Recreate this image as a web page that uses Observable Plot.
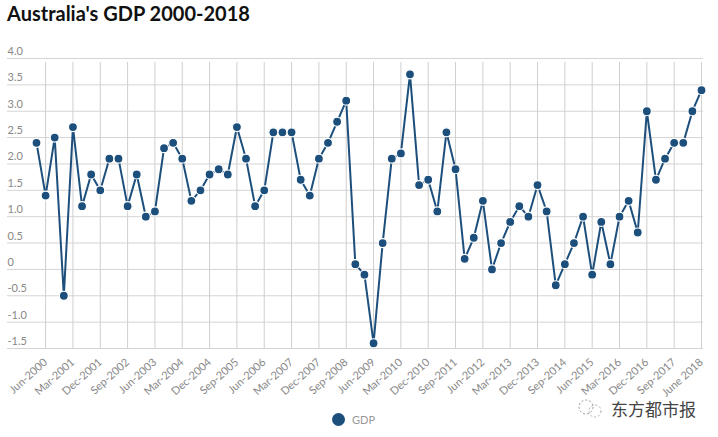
<!DOCTYPE html>
<html>
<head>
<meta charset="utf-8">
<script src="https://cdn.jsdelivr.net/npm/d3@7"></script>
<script src="https://cdn.jsdelivr.net/npm/@observablehq/plot@0.6"></script>
<style>
  body { margin: 0; background: #fff; font-family: Lato, "Noto Sans", sans-serif; }
  #wrap { position: relative; width: 718px; height: 437px; }
  #title { position: absolute; left: 7px; top: 1px; font: bold 20px Lato, sans-serif; color: #111; }
  #chart { position: absolute; left: 0; top: 30px; }
  #legend { position: absolute; left: 332px; top: 413px; display: flex; align-items: center; font: 11px Lato, sans-serif; color: #999; }
  #legend .sw { width: 13px; height: 13px; border-radius: 50%; background: #1d4f7c; margin-right: 7px; }
  #mark { position: absolute; left: 575px; top: 396px; display: flex; align-items: center; font: 17px "Noto Sans CJK SC", sans-serif; color: #444; }
</style>
</head>
<body>
<div id="wrap">
  <div id="title">Australia's GDP 2000-2018</div>
  <div id="chart"></div>
  <div id="legend"><span class="sw"></span><span>GDP</span></div>
  <div id="mark">
    <svg width="32" height="24" viewBox="0 0 32 24"><circle cx="11" cy="10" r="7" fill="none" stroke="#999" stroke-width="1" stroke-dasharray="2 2"/><circle cx="20" cy="14" r="6" fill="none" stroke="#aaa" stroke-width="1" stroke-dasharray="2 2"/></svg>
    <span style="margin-left:4px">东方都市报</span>
  </div>
</div>
<script>
// Quarterly GDP growth (annual %), Mar-2000 .. Jun-2018
const gdp = [
  2.4, 1.4, 2.5, -0.5, 2.7, 1.2, 1.8, 1.5, 2.1, 2.1,
  1.2, 1.8, 1.0, 1.1, 2.3, 2.4, 2.1, 1.3, 1.5, 1.8,
  1.9, 1.8, 2.7, 2.1, 1.2, 1.5, 2.6, 2.6, 2.6, 1.7,
  1.4, 2.1, 2.4, 2.8, 3.2, 0.1, -0.1, -1.4, 0.5, 2.1,
  2.2, 3.7, 1.6, 1.7, 1.1, 2.6, 1.9, 0.2, 0.6, 1.3,
  0.0, 0.5, 0.9, 1.2, 1.0, 1.6, 1.1, -0.3, 0.1, 0.5,
  1.0, -0.1, 0.9, 0.1, 1.0, 1.3, 0.7, 3.0, 1.7, 2.1,
  2.4, 2.4, 3.0, 3.4
];
const tickLabels = [
  "Jun-2000","Mar-2001","Dec-2001","Sep-2002","Jun-2003","Mar-2004","Dec-2004",
  "Sep-2005","Jun-2006","Mar-2007","Dec-2007","Sep-2008","Jun-2009","Mar-2010",
  "Dec-2010","Sep-2011","Jun-2012","Mar-2013","Dec-2013","Sep-2014","Jun-2015",
  "Mar-2016","Dec-2016","Sep-2017","June 2018"
];
const yTicks = [-1.5, -1.0, -0.5, 0, 0.5, 1.0, 1.5, 2.0, 2.5, 3.0, 3.5, 4.0];

const data = gdp.map((v, i) => ({ i, v }));
const xTicks = tickLabels.map((_, k) => 1 + 3 * k);
const labelOf = new Map(xTicks.map((t, k) => [t, tickLabels[k]]));
const color = "#1d4f7c";

const chart = Plot.plot({
  width: 718,
  height: 372,
  marginTop: 28,
  marginBottom: 54,
  marginLeft: 7,
  marginRight: 15,
  insetLeft: 29,
  insetRight: 2,
  x: { domain: [0, gdp.length - 1] },
  y: { domain: [-1.5, 4] },
  style: { fontFamily: "Lato, sans-serif", fontSize: "11px", color: "#888", background: "transparent", overflow: "visible" },
  marks: [
    Plot.gridY(yTicks, { stroke: "#d4d4d4", strokeOpacity: 1, strokeWidth: 1 }),
    Plot.gridX(xTicks, { stroke: "#cfcfcf", strokeOpacity: 1, strokeWidth: 1, y1: -1.5, y2: 4, insetBottom: -4 }),
    Plot.axisY(yTicks, {
      tickSize: 0, tickPadding: 0, textAnchor: "start", dx: 0, dy: -7,
      tickFormat: d => d === 0 ? "0" : d.toFixed(1), fill: "#888", label: null
    }),
    Plot.axisX(xTicks, {
      tickSize: 0, tickPadding: 12, tickRotate: -42, tickFormat: d => labelOf.get(d),
      fill: "#888", label: null
    }),
    Plot.line(data, { x: "i", y: "v", stroke: color, strokeWidth: 2 }),
    Plot.dot(data, { x: "i", y: "v", r: 4.5, fill: color, stroke: "#fff", strokeWidth: 1.2 })
  ]
});
document.getElementById("chart").appendChild(chart);
</script>
</body>
</html>
